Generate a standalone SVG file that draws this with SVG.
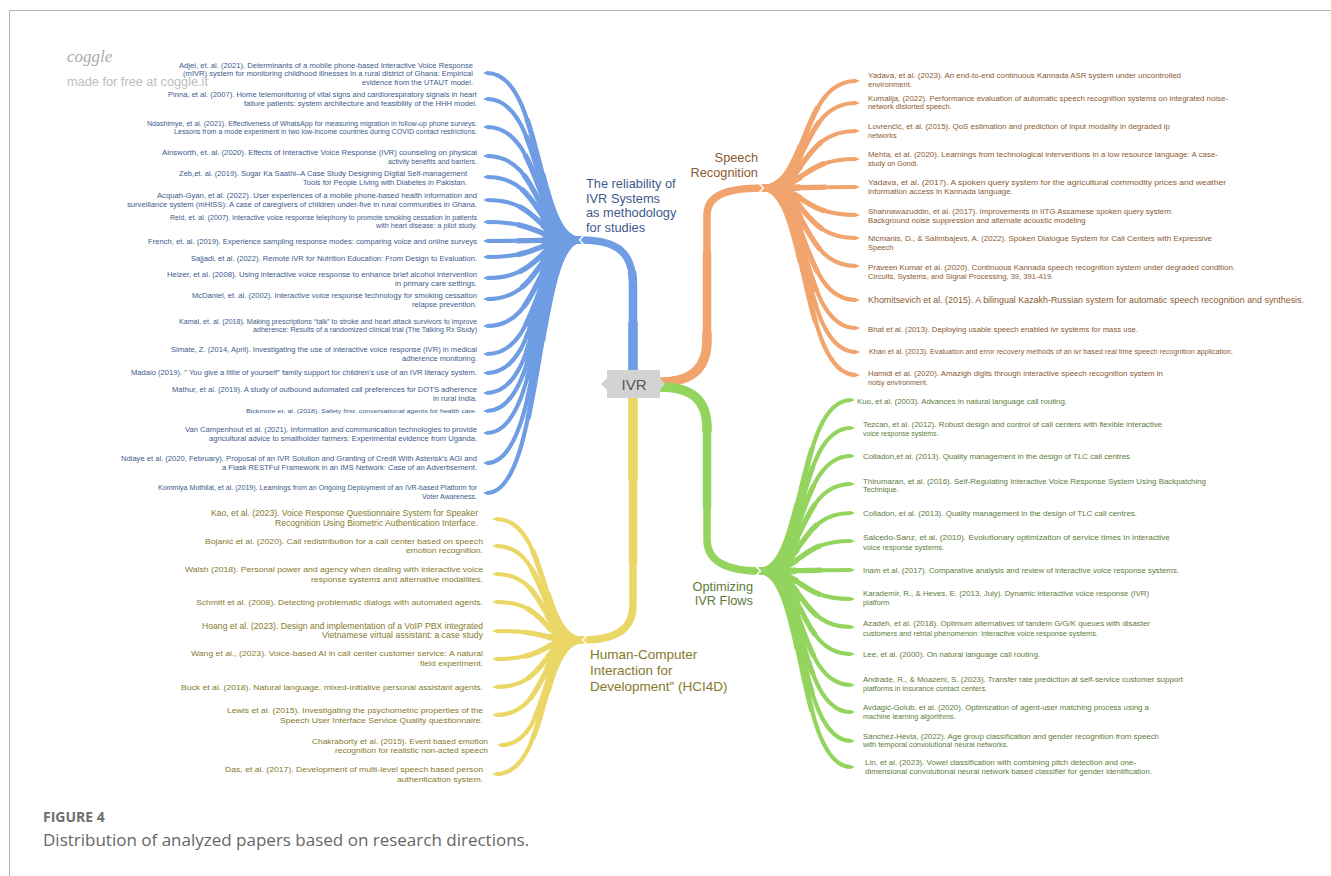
<svg xmlns="http://www.w3.org/2000/svg" width="1331" height="876" viewBox="0 0 1331 876">
<style>
text{font-family:"Liberation Sans",Arial,sans-serif}
.b{fill:#3e5a8c}
.y{fill:#857a2b}
.o{fill:#8a5a32}
.g{fill:#5e7b3b}
.e{text-anchor:end}
.cb{stroke:#6f9de3;fill:none}
.co{stroke:#f1a46d;fill:none}
.cg{stroke:#93d45e;fill:none}
.cy{stroke:#ebd766;fill:none}
.br{stroke-width:4.2}
.bm{stroke-width:5.3;stroke-dasharray:68 200}
.bt{stroke-width:6.5;stroke-dasharray:40 200}
.tr{stroke-width:7.5}
.tm{stroke-width:8.5;stroke-dasharray:60 200}
.tt{stroke-width:9.5;stroke-dasharray:30 200}
.nt{fill:none;stroke:#fff;stroke-width:1.3}
</style>
<defs>
<marker id="mb" markerUnits="userSpaceOnUse" markerWidth="10" markerHeight="10" refX="0.5" refY="5" orient="auto"><path d="M0,2.9 L4.5,5 L0,7.1 Z" fill="#6f9de3"/></marker>
<marker id="mo" markerUnits="userSpaceOnUse" markerWidth="10" markerHeight="10" refX="0.5" refY="5" orient="auto"><path d="M0,2.9 L4.5,5 L0,7.1 Z" fill="#f1a46d"/></marker>
<marker id="mg" markerUnits="userSpaceOnUse" markerWidth="10" markerHeight="10" refX="0.5" refY="5" orient="auto"><path d="M0,2.9 L4.5,5 L0,7.1 Z" fill="#93d45e"/></marker>
<marker id="my" markerUnits="userSpaceOnUse" markerWidth="10" markerHeight="10" refX="0.5" refY="5" orient="auto"><path d="M0,2.9 L4.5,5 L0,7.1 Z" fill="#ebd766"/></marker>
<path id="tb" pathLength="100" d="M633,372 L633,285 C633,252 617,240 580,240"/>
<path id="to" pathLength="100" d="M660,382 C692,382 707,368 707,340 L707,215 C707,196 725,188 763,188"/>
<path id="tg" pathLength="100" d="M660,387 C692,387 707,400 707,428 L707,540 C707,560 725,571 760,571"/>
<path id="ty" pathLength="100" d="M633,396 L633,605 C633,628 618,640 583,640"/>
<path id="b1" pathLength="100" d="M580,240 C535,240 543,73 487,73"/>
<path id="b2" pathLength="100" d="M580,240 C535,240 543,99 487,99"/>
<path id="b3" pathLength="100" d="M580,240 C535,240 543,127 487,127"/>
<path id="b4" pathLength="100" d="M580,240 C535,240 543,156 487,156"/>
<path id="b5" pathLength="100" d="M580,240 C535,240 543,177 487,177"/>
<path id="b6" pathLength="100" d="M580,240 C535,240 543,200 487,200"/>
<path id="b7" pathLength="100" d="M580,240 C535,240 543,222 487,222"/>
<path id="b8" pathLength="100" d="M580,240 C535,240 543,241 487,241"/>
<path id="b9" pathLength="100" d="M580,240 C535,240 543,257 487,257"/>
<path id="b10" pathLength="100" d="M580,240 C535,240 543,278 487,278"/>
<path id="b11" pathLength="100" d="M580,240 C535,240 543,299 487,299"/>
<path id="b12" pathLength="100" d="M580,240 C535,240 543,326 487,326"/>
<path id="b13" pathLength="100" d="M580,240 C535,240 543,354 487,354"/>
<path id="b14" pathLength="100" d="M580,240 C535,240 543,373 487,373"/>
<path id="b15" pathLength="100" d="M580,240 C535,240 543,393 487,393"/>
<path id="b16" pathLength="100" d="M580,240 C535,240 543,411 487,411"/>
<path id="b17" pathLength="100" d="M580,240 C535,240 543,433 487,433"/>
<path id="b18" pathLength="100" d="M580,240 C535,240 543,463 487,463"/>
<path id="b19" pathLength="100" d="M580,240 C535,240 543,493 487,493"/>
<path id="o1" pathLength="100" d="M763,188 C808,188 800,81 856,81"/>
<path id="o2" pathLength="100" d="M763,188 C808,188 800,103 856,103"/>
<path id="o3" pathLength="100" d="M763,188 C808,188 800,131 856,131"/>
<path id="o4" pathLength="100" d="M763,188 C808,188 800,159 856,159"/>
<path id="o5" pathLength="100" d="M763,188 C808,188 800,187 856,187"/>
<path id="o6" pathLength="100" d="M763,188 C808,188 800,215 856,215"/>
<path id="o7" pathLength="100" d="M763,188 C808,188 800,238 856,238"/>
<path id="o8" pathLength="100" d="M763,188 C808,188 800,266 856,266"/>
<path id="o9" pathLength="100" d="M763,188 C808,188 800,300 856,300"/>
<path id="o10" pathLength="100" d="M763,188 C808,188 800,328 856,328"/>
<path id="o11" pathLength="100" d="M763,188 C808,188 800,352 856,352"/>
<path id="o12" pathLength="100" d="M763,188 C808,188 800,375 856,375"/>
<path id="g1" pathLength="100" d="M760,571 C805,571 797,400 851,400"/>
<path id="g2" pathLength="100" d="M760,571 C805,571 797,428 851,428"/>
<path id="g3" pathLength="100" d="M760,571 C805,571 797,456 851,456"/>
<path id="g4" pathLength="100" d="M760,571 C805,571 797,484 851,484"/>
<path id="g5" pathLength="100" d="M760,571 C805,571 797,513 851,513"/>
<path id="g6" pathLength="100" d="M760,571 C805,571 797,541 851,541"/>
<path id="g7" pathLength="100" d="M760,571 C805,571 797,570 851,570"/>
<path id="g8" pathLength="100" d="M760,571 C805,571 797,599 851,599"/>
<path id="g9" pathLength="100" d="M760,571 C805,571 797,627 851,627"/>
<path id="g10" pathLength="100" d="M760,571 C805,571 797,654 851,654"/>
<path id="g11" pathLength="100" d="M760,571 C805,571 797,685 851,685"/>
<path id="g12" pathLength="100" d="M760,571 C805,571 797,712 851,712"/>
<path id="g13" pathLength="100" d="M760,571 C805,571 797,741 851,741"/>
<path id="g14" pathLength="100" d="M760,571 C805,571 797,767 851,767"/>
<path id="y1" pathLength="100" d="M583,640 C538,640 550,519 496,519"/>
<path id="y2" pathLength="100" d="M583,640 C538,640 550,546 496,546"/>
<path id="y3" pathLength="100" d="M583,640 C538,640 550,574 496,574"/>
<path id="y4" pathLength="100" d="M583,640 C538,640 550,602 496,602"/>
<path id="y5" pathLength="100" d="M583,640 C538,640 550,631 496,631"/>
<path id="y6" pathLength="100" d="M583,640 C538,640 550,659 496,659"/>
<path id="y7" pathLength="100" d="M583,640 C538,640 550,687 496,687"/>
<path id="y8" pathLength="100" d="M583,640 C538,640 550,715 496,715"/>
<path id="y9" pathLength="100" d="M583,640 C538,640 552,745 501,745"/>
<path id="y10" pathLength="100" d="M583,640 C538,640 550,774 496,774"/>
</defs>
<rect width="1331" height="876" fill="#fff"/>
<path d="M9.5,876 L9.5,10.5 L1331,10.5" fill="none" stroke="#b5b5b5" stroke-width="1"/>

<g id="watermark">
<text x="67" y="62" font-size="17" font-style="italic" fill="#ababab" style="font-family:'Liberation Serif',serif">coggle</text>
<text x="67" y="86" font-size="12" fill="#bdbdbd" textLength="141" lengthAdjust="spacingAndGlyphs">made for free at coggle.it</text>
</g>

<g id="connectors">
<g class="cb tr"><use href="#tb"/></g><g class="cb tm"><use href="#tb"/></g><g class="cb tt"><use href="#tb"/></g>
<g class="co tr"><use href="#to"/></g><g class="co tm"><use href="#to"/></g><g class="co tt"><use href="#to"/></g>
<g class="cg tr"><use href="#tg"/></g><g class="cg tm"><use href="#tg"/></g><g class="cg tt"><use href="#tg"/></g>
<g class="cy tr"><use href="#ty"/></g><g class="cy tm"><use href="#ty"/></g><g class="cy tt"><use href="#ty"/></g>
<g class="cb br" marker-end="url(#mb)">
<use href="#b1"/><use href="#b2"/><use href="#b3"/><use href="#b4"/><use href="#b5"/><use href="#b6"/><use href="#b7"/><use href="#b8"/><use href="#b9"/><use href="#b10"/><use href="#b11"/><use href="#b12"/><use href="#b13"/><use href="#b14"/><use href="#b15"/><use href="#b16"/><use href="#b17"/><use href="#b18"/><use href="#b19"/>
</g>
<g class="cb bm">
<use href="#b1"/><use href="#b2"/><use href="#b3"/><use href="#b4"/><use href="#b5"/><use href="#b6"/><use href="#b7"/><use href="#b8"/><use href="#b9"/><use href="#b10"/><use href="#b11"/><use href="#b12"/><use href="#b13"/><use href="#b14"/><use href="#b15"/><use href="#b16"/><use href="#b17"/><use href="#b18"/><use href="#b19"/>
</g>
<g class="cb bt">
<use href="#b1"/><use href="#b2"/><use href="#b3"/><use href="#b4"/><use href="#b5"/><use href="#b6"/><use href="#b7"/><use href="#b8"/><use href="#b9"/><use href="#b10"/><use href="#b11"/><use href="#b12"/><use href="#b13"/><use href="#b14"/><use href="#b15"/><use href="#b16"/><use href="#b17"/><use href="#b18"/><use href="#b19"/>
</g>
<g class="co br" marker-end="url(#mo)">
<use href="#o1"/><use href="#o2"/><use href="#o3"/><use href="#o4"/><use href="#o5"/><use href="#o6"/><use href="#o7"/><use href="#o8"/><use href="#o9"/><use href="#o10"/><use href="#o11"/><use href="#o12"/>
</g>
<g class="co bm">
<use href="#o1"/><use href="#o2"/><use href="#o3"/><use href="#o4"/><use href="#o5"/><use href="#o6"/><use href="#o7"/><use href="#o8"/><use href="#o9"/><use href="#o10"/><use href="#o11"/><use href="#o12"/>
</g>
<g class="co bt">
<use href="#o1"/><use href="#o2"/><use href="#o3"/><use href="#o4"/><use href="#o5"/><use href="#o6"/><use href="#o7"/><use href="#o8"/><use href="#o9"/><use href="#o10"/><use href="#o11"/><use href="#o12"/>
</g>
<g class="cg br" marker-end="url(#mg)">
<use href="#g1"/><use href="#g2"/><use href="#g3"/><use href="#g4"/><use href="#g5"/><use href="#g6"/><use href="#g7"/><use href="#g8"/><use href="#g9"/><use href="#g10"/><use href="#g11"/><use href="#g12"/><use href="#g13"/><use href="#g14"/>
</g>
<g class="cg bm">
<use href="#g1"/><use href="#g2"/><use href="#g3"/><use href="#g4"/><use href="#g5"/><use href="#g6"/><use href="#g7"/><use href="#g8"/><use href="#g9"/><use href="#g10"/><use href="#g11"/><use href="#g12"/><use href="#g13"/><use href="#g14"/>
</g>
<g class="cg bt">
<use href="#g1"/><use href="#g2"/><use href="#g3"/><use href="#g4"/><use href="#g5"/><use href="#g6"/><use href="#g7"/><use href="#g8"/><use href="#g9"/><use href="#g10"/><use href="#g11"/><use href="#g12"/><use href="#g13"/><use href="#g14"/>
</g>
<g class="cy br" marker-end="url(#my)">
<use href="#y1"/><use href="#y2"/><use href="#y3"/><use href="#y4"/><use href="#y5"/><use href="#y6"/><use href="#y7"/><use href="#y8"/><use href="#y9"/><use href="#y10"/>
</g>
<g class="cy bm">
<use href="#y1"/><use href="#y2"/><use href="#y3"/><use href="#y4"/><use href="#y5"/><use href="#y6"/><use href="#y7"/><use href="#y8"/><use href="#y9"/><use href="#y10"/>
</g>
<g class="cy bt">
<use href="#y1"/><use href="#y2"/><use href="#y3"/><use href="#y4"/><use href="#y5"/><use href="#y6"/><use href="#y7"/><use href="#y8"/><use href="#y9"/><use href="#y10"/>
</g>
<polyline class="nt" points="584,235.5 579.5,240 584,244.5"/>
<polyline class="nt" points="759,183.5 763.5,188 759,192.5"/>
<polyline class="nt" points="756,566.5 760.5,571 756,575.5"/>
<polyline class="nt" points="587,635.5 582.5,640 587,644.5"/>
</g>

<g id="ivr">
<path d="M607,370 L660,370 L660,378 L665,384 L660,390 L660,398 L607,398 L607,390 L601,384 L607,378 Z" fill="#d3d3d3"/>
<text x="634" y="390" font-size="15" fill="#555" text-anchor="middle">IVR</text>
</g>

<g id="cat-reliability" class="b" font-size="12.8">
<text x="586" y="188">The reliability of</text>
<text x="586" y="202.5">IVR Systems</text>
<text x="586" y="217">as methodology</text>
<text x="586" y="231.5">for studies</text>
</g>
<g id="cat-speech" class="o e" font-size="12.8">
<text x="758" y="162">Speech</text>
<text x="758" y="177">Recognition</text>
</g>
<g id="cat-optimizing" class="g e" font-size="12.8">
<text x="753" y="591">Optimizing</text>
<text x="753" y="605">IVR Flows</text>
</g>
<g id="cat-hci4d" class="y" font-size="13.5">
<text x="590" y="659">Human-Computer</text>
<text x="590" y="675">Interaction for</text>
<text x="590" y="691">Development" (HCI4D)</text>
</g>

<g class="b e">
<g id="adjei" font-size="7.1">
<text x="473" y="67.5" textLength="294" lengthAdjust="spacingAndGlyphs">Adjei, et. al. (2021). Determinants of a mobile phone-based Interactive Voice Response</text>
<text x="473" y="75.5" textLength="290" lengthAdjust="spacingAndGlyphs">(mIVR) system for monitoring childhood illnesses in a rural district of Ghana: Empirical</text>
<text x="473" y="84.5" textLength="111" lengthAdjust="spacingAndGlyphs">evidence from the UTAUT model.</text>
</g>
<g id="pinna" font-size="6.8">
<text x="477" y="96.5" textLength="309" lengthAdjust="spacingAndGlyphs">Pinna, et al. (2007). Home telemonitoring of vital signs and cardiorespiratory signals in heart</text>
<text x="477" y="105.5" textLength="233" lengthAdjust="spacingAndGlyphs">failure patients: system architecture and feasibility of the HHH model.</text>
</g>
<g id="ndashimye" font-size="6.7">
<text x="477" y="125.5" textLength="330" lengthAdjust="spacingAndGlyphs">Ndashimye, et al. (2021). Effectiveness of WhatsApp for measuring migration in follow-up phone surveys.</text>
<text x="477" y="133.5" textLength="303" lengthAdjust="spacingAndGlyphs">Lessons from a mode experiment in two low-income countries during COVID contact restrictions.</text>
</g>
<g id="ainsworth" font-size="7.1">
<text x="477" y="154.5" textLength="315" lengthAdjust="spacingAndGlyphs">Ainsworth, et. al. (2020). Effects of Interactive Voice Response (IVR) counseling on physical</text>
<text x="477" y="163.5" textLength="89" lengthAdjust="spacingAndGlyphs">activity benefits and barriers.</text>
</g>
<g id="zeb" font-size="7.3">
<text x="467" y="175.5" textLength="288" lengthAdjust="spacingAndGlyphs">Zeb,et. al. (2019). Sugar Ka Saathi–A Case Study Designing Digital Self-management</text>
<text x="467" y="184.5" textLength="164" lengthAdjust="spacingAndGlyphs">Tools for People Living with Diabetes in Pakistan.</text>
</g>
<g id="acquah" font-size="7.1">
<text x="477" y="197.5" textLength="320" lengthAdjust="spacingAndGlyphs">Acquah-Gyan, et al. (2022). User experiences of a mobile phone-based health information and</text>
<text x="477" y="206.5" textLength="350" lengthAdjust="spacingAndGlyphs">surveillance system (mHISS): A case of caregivers of children under-five in rural communities in Ghana.</text>
</g>
<g id="reid" font-size="6.4">
<text x="477" y="220.3" textLength="307" lengthAdjust="spacingAndGlyphs">Reid, et. al. (2007). Interactive voice response telephony to promote smoking cessation in patients</text>
<text x="477" y="228.3" textLength="101" lengthAdjust="spacingAndGlyphs">with heart disease: a pilot study.</text>
</g>
<g id="french" font-size="7.2">
<text x="477" y="243.5" textLength="329" lengthAdjust="spacingAndGlyphs">French, et. al. (2019). Experience sampling response modes: comparing voice and online surveys</text>
</g>
<g id="sajjadi" font-size="6.9">
<text x="477" y="260.5" textLength="286" lengthAdjust="spacingAndGlyphs">Sajjadi, et al. (2022). Remote iVR for Nutrition Education: From Design to Evaluation.</text>
</g>
<g id="helzer" font-size="6.9">
<text x="477" y="276.5" textLength="310" lengthAdjust="spacingAndGlyphs">Helzer, et al. (2008). Using interactive voice response to enhance brief alcohol intervention</text>
<text x="477" y="285.5" textLength="82" lengthAdjust="spacingAndGlyphs">in primary care settings.</text>
</g>
<g id="mcdaniel" font-size="7">
<text x="477" y="297.5" textLength="285" lengthAdjust="spacingAndGlyphs">McDaniel, et. al. (2002). Interactive voice response technology for smoking cessation</text>
<text x="477" y="306.5" textLength="65" lengthAdjust="spacingAndGlyphs">relapse prevention.</text>
</g>
<g id="kamal" font-size="6.3">
<text x="477" y="324.2" textLength="298" lengthAdjust="spacingAndGlyphs">Kamal, et. al. (2018). Making prescriptions “talk” to stroke and heart attack survivors to improve</text>
<text x="477" y="332.2" textLength="224" lengthAdjust="spacingAndGlyphs">adherence: Results of a randomized clinical trial (The Talking Rx Study)</text>
</g>
<g id="simate" font-size="6.7">
<text x="477" y="352.4" textLength="306" lengthAdjust="spacingAndGlyphs">Simate, Z. (2014, April). Investigating the use of interactive voice response (IVR) in medical</text>
<text x="477" y="361.4" textLength="75" lengthAdjust="spacingAndGlyphs">adherence monitoring.</text>
</g>
<g id="madaio" font-size="6.7">
<text x="477" y="375.4" textLength="346" lengthAdjust="spacingAndGlyphs">Madaio (2019). " You give a little of yourself" family support for children's use of an IVR literacy system.</text>
</g>
<g id="mathur" font-size="7.2">
<text x="477" y="391.5" textLength="305" lengthAdjust="spacingAndGlyphs">Mathur, et al. (2019). A study of outbound automated call preferences for DOTS adherence</text>
<text x="477" y="400.5" textLength="44" lengthAdjust="spacingAndGlyphs">in rural India.</text>
</g>
<g id="bickmore" font-size="6.25">
<text x="477" y="413.2" textLength="231" lengthAdjust="spacingAndGlyphs">Bickmore et. al. (2018). Safety first: conversational agents for health care.</text>
</g>
<g id="vancampenhout" font-size="7.3">
<text x="477" y="431.5" textLength="292" lengthAdjust="spacingAndGlyphs">Van Campenhout et al. (2021). Information and communication technologies to provide</text>
<text x="477" y="440.5" textLength="268" lengthAdjust="spacingAndGlyphs">agricultural advice to smallholder farmers: Experimental evidence from Uganda.</text>
</g>
<g id="ndiaye" font-size="7">
<text x="477" y="460.5" textLength="356" lengthAdjust="spacingAndGlyphs">Ndiaye et al. (2020, February). Proposal of an IVR Solution and Granting of Credit With Asterisk's AGI and</text>
<text x="477" y="469.5" textLength="255" lengthAdjust="spacingAndGlyphs">a Flask RESTFul Framework in an IMS Network: Case of an Advertisement.</text>
</g>
<g id="kommiya" font-size="6.8">
<text x="477" y="490.4" textLength="319" lengthAdjust="spacingAndGlyphs">Kommiya Mothilal, et al. (2019). Learnings from an Ongoing Deployment of an IVR-based Platform for</text>
<text x="477" y="499.4" textLength="55" lengthAdjust="spacingAndGlyphs">Voter Awareness.</text>
</g>
</g>

<g class="y e">
<g id="kao" font-size="8.2">
<text x="478" y="516" textLength="267" lengthAdjust="spacingAndGlyphs">Kao, et al. (2023). Voice Response Questionnaire System for Speaker</text>
<text x="478" y="526" textLength="203" lengthAdjust="spacingAndGlyphs">Recognition Using Biometric Authentication Interface.</text>
</g>
<g id="bojanic" font-size="7.6">
<text x="483" y="543.7" textLength="278" lengthAdjust="spacingAndGlyphs">Bojanić et al. (2020). Call redistribution for a call center based on speech</text>
<text x="483" y="552.7" textLength="77" lengthAdjust="spacingAndGlyphs">emotion recognition.</text>
</g>
<g id="walsh" font-size="8.1">
<text x="483" y="572" textLength="298" lengthAdjust="spacingAndGlyphs">Walsh (2018). Personal power and agency when dealing with interactive voice</text>
<text x="483" y="582" textLength="172" lengthAdjust="spacingAndGlyphs">response systems and alternative modalities.</text>
</g>
<g id="schmitt" font-size="8">
<text x="483" y="605" textLength="287" lengthAdjust="spacingAndGlyphs">Schmitt et al. (2008). Detecting problematic dialogs with automated agents.</text>
</g>
<g id="hoang" font-size="8.2">
<text x="483" y="629" textLength="281" lengthAdjust="spacingAndGlyphs">Hoang et al. (2023). Design and implementation of a VoIP PBX integrated</text>
<text x="483" y="638" textLength="161" lengthAdjust="spacingAndGlyphs">Vietnamese virtual assistant: a case study</text>
</g>
<g id="wang" font-size="7.8">
<text x="483" y="656" textLength="292" lengthAdjust="spacingAndGlyphs">Wang et al., (2023). Voice-based AI in call center customer service: A natural</text>
<text x="483" y="666" textLength="63" lengthAdjust="spacingAndGlyphs">field experiment.</text>
</g>
<g id="buck" font-size="7.7">
<text x="483" y="690" textLength="302" lengthAdjust="spacingAndGlyphs">Buck et al. (2018). Natural language, mixed-initiative personal assistant agents.</text>
</g>
<g id="lewis" font-size="7.8">
<text x="483" y="713" textLength="256" lengthAdjust="spacingAndGlyphs">Lewis et al. (2015). Investigating the psychometric properties of the</text>
<text x="483" y="723" textLength="203" lengthAdjust="spacingAndGlyphs">Speech User Interface Service Quality questionnaire.</text>
</g>
<g id="chakraborty" font-size="8">
<text x="488" y="744" textLength="176" lengthAdjust="spacingAndGlyphs">Chakraborty et al. (2015). Event based emotion</text>
<text x="488" y="753" textLength="153" lengthAdjust="spacingAndGlyphs">recognition for realistic non-acted speech</text>
</g>
<g id="das" font-size="8.1">
<text x="483" y="772" textLength="258" lengthAdjust="spacingAndGlyphs">Das, et al. (2017). Development of multi-level speech based person</text>
<text x="483" y="782" textLength="86" lengthAdjust="spacingAndGlyphs">authentication system.</text>
</g>
</g>

<g class="o">
<g id="yadava2023" font-size="7.6">
<text x="868" y="77.7" textLength="313" lengthAdjust="spacingAndGlyphs">Yadava, et al. (2023). An end-to-end continuous Kannada ASR system under uncontrolled</text>
<text x="868" y="86.7">environment.</text>
</g>
<g id="kumalija" font-size="7.35">
<text x="868" y="100.6" textLength="360" lengthAdjust="spacingAndGlyphs">Kumalija, (2022). Performance evaluation of automatic speech recognition systems on integrated noise-</text>
<text x="868" y="108.6">network distorted speech.</text>
</g>
<g id="lovrencic" font-size="7.15">
<text x="868" y="128.5" textLength="302" lengthAdjust="spacingAndGlyphs">Lovrenčić, et al. (2015). QoS estimation and prediction of input modality in degraded ip</text>
<text x="868" y="137.5">networks</text>
</g>
<g id="mehta" font-size="7.2">
<text x="868" y="156.5" textLength="350" lengthAdjust="spacingAndGlyphs">Mehta, et al. (2020). Learnings from technological interventions in a low resource language: A case-</text>
<text x="868" y="165.5">study on Gondi.</text>
</g>
<g id="yadava2017" font-size="7.9">
<text x="868" y="184.8" textLength="358" lengthAdjust="spacingAndGlyphs">Yadava, et al. (2017). A spoken query system for the agricultural commodity prices and weather</text>
<text x="868" y="193.8">information access in Kannada language.</text>
</g>
<g id="shahnawazuddin" font-size="7.75">
<text x="868" y="213.7" textLength="305" lengthAdjust="spacingAndGlyphs">Shahnawazuddin, et al. (2017). Improvements in IITG Assamese spoken query system:</text>
<text x="868" y="222.7">Background noise suppression and alternate acoustic modeling</text>
</g>
<g id="nicmanis" font-size="7.5">
<text x="868" y="240.6" textLength="344" lengthAdjust="spacingAndGlyphs">Nicmanis, D., &amp; Salimbajevs, A. (2022). Spoken Dialogue System for Call Centers with Expressive</text>
<text x="868" y="250.3">Speech</text>
</g>
<g id="praveen" font-size="7.6">
<text x="868" y="269.7" textLength="367" lengthAdjust="spacingAndGlyphs">Praveen Kumar et al. (2020). Continuous Kannada speech recognition system under degraded condition.</text>
<text x="868" y="278.7">Circuits, Systems, and Signal Processing, 39, 391-419.</text>
</g>
<g id="khomitsevich" font-size="8.2">
<text x="868" y="303" textLength="436" lengthAdjust="spacingAndGlyphs">Khomitsevich et al. (2015). A bilingual Kazakh-Russian system for automatic speech recognition and synthesis.</text>
</g>
<g id="bhat" font-size="7.3">
<text x="868" y="331.6" textLength="270" lengthAdjust="spacingAndGlyphs">Bhat et al. (2013). Deploying usable speech enabled ivr systems for mass use.</text>
</g>
<g id="khan" font-size="6.5">
<text x="869" y="354.3" textLength="364" lengthAdjust="spacingAndGlyphs">Khan et al. (2013). Evaluation and error recovery methods of an ivr based real time speech recognition application.</text>
</g>
<g id="hamidi" font-size="7.15">
<text x="868" y="375.5" textLength="295" lengthAdjust="spacingAndGlyphs">Hamidi et al. (2020). Amazigh digits through interactive speech recognition system in</text>
<text x="868" y="384.5">noisy environment.</text>
</g>
</g>

<g class="g">
<g id="kuo" font-size="7.05">
<text x="857" y="403.5" textLength="210" lengthAdjust="spacingAndGlyphs">Kuo, et al. (2003). Advances in natural language call routing.</text>
</g>
<g id="tezcan" font-size="6.9">
<text x="863" y="426.5" textLength="299" lengthAdjust="spacingAndGlyphs">Tezcan, et al. (2012). Robust design and control of call centers with flexible interactive</text>
<text x="863" y="435.5">voice response systems.</text>
</g>
<g id="colladon1" font-size="7.3">
<text x="863" y="458.5" textLength="267" lengthAdjust="spacingAndGlyphs">Colladon,et al. (2013). Quality management in the design of TLC call centres</text>
</g>
<g id="thirumaran" font-size="7.4">
<text x="863" y="483.6" textLength="343" lengthAdjust="spacingAndGlyphs">Thirumaran, et al. (2016). Self-Regulating Interactive Voice Response System Using Backpatching</text>
<text x="863" y="491.6">Technique.</text>
</g>
<g id="colladon2" font-size="7.3">
<text x="863" y="515.5" textLength="274" lengthAdjust="spacingAndGlyphs">Colladon, et al. (2013). Quality management in the design of TLC call centres.</text>
</g>
<g id="salcedo" font-size="7.4">
<text x="863" y="539.6" textLength="307" lengthAdjust="spacingAndGlyphs">Salcedo-Sanz, et al. (2010). Evolutionary optimization of service times in interactive</text>
<text x="863" y="549.6">voice response systems.</text>
</g>
<g id="inam" font-size="7.2">
<text x="863" y="572.5" textLength="316" lengthAdjust="spacingAndGlyphs">Inam et al. (2017). Comparative analysis and review of interactive voice response systems.</text>
</g>
<g id="karademir" font-size="7.25">
<text x="863" y="595.5" textLength="286" lengthAdjust="spacingAndGlyphs">Karademir, R., &amp; Heves, E. (2013, July). Dynamic interactive voice response (IVR)</text>
<text x="863" y="604.5">platform</text>
</g>
<g id="azadeh" font-size="7.4">
<text x="863" y="625.6" textLength="287" lengthAdjust="spacingAndGlyphs">Azadeh, et al. (2018). Optimum alternatives of tandem G/G/K queues with disaster</text>
<text x="863" y="635.6">customers and retrial phenomenon: interactive voice response systems.</text>
</g>
<g id="lee" font-size="7">
<text x="863" y="656.5" textLength="177" lengthAdjust="spacingAndGlyphs">Lee, et al. (2000). On natural language call routing.</text>
</g>
<g id="andrade" font-size="7.25">
<text x="863" y="681.5" textLength="320" lengthAdjust="spacingAndGlyphs">Andrade, R., &amp; Moazeni, S. (2023). Transfer rate prediction at self-service customer support</text>
<text x="863" y="690.5">platforms in insurance contact centers.</text>
</g>
<g id="avdagic" font-size="7.25">
<text x="863" y="709.5" textLength="286" lengthAdjust="spacingAndGlyphs">Avdagić-Golub, et al. (2020). Optimization of agent-user matching process using a</text>
<text x="863" y="718.5">machine learning algorithms.</text>
</g>
<g id="sanchez" font-size="7.4">
<text x="863" y="738.6" textLength="296" lengthAdjust="spacingAndGlyphs">Sánchez-Hevia, (2022). Age group classification and gender recognition from speech</text>
<text x="863" y="746.6">with temporal convolutional neural networks.</text>
</g>
<g id="lin" font-size="7">
<text x="865" y="764.5" textLength="271" lengthAdjust="spacingAndGlyphs">Lin, et al. (2023). Vowel classification with combining pitch detection and one-</text>
<text x="865" y="773.5" textLength="287" lengthAdjust="spacingAndGlyphs">dimensional convolutional neural network based classifier for gender identification.</text>
</g>
</g>

<g id="caption">
<text x="43" y="822" font-size="14" font-weight="bold" fill="#6e6e6e" style="font-family:'Open Sans',sans-serif">FIGURE 4</text>
<text x="43" y="846" font-size="17" fill="#666" style="font-family:'Open Sans',sans-serif">Distribution of analyzed papers based on research directions.</text>
</g>
</svg>
